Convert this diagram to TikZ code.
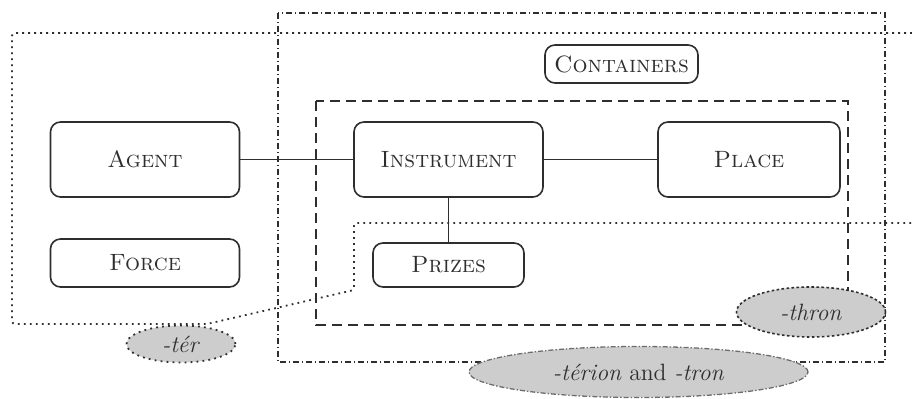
\documentclass[tikz,border=0pt]{standalone}
\usepackage{fontspec}
\usetikzlibrary{shapes.geometric}
\definecolor{ink}{HTML}{2E2E2E}
\definecolor{suffixfill}{HTML}{CDCDCD}
\tikzset{
  concept/.style={draw=ink, line width=0.8pt, rounded corners=5pt, inner sep=0pt,
    font=\fontsize{11.8}{14}\selectfont\scshape, text=ink},
  suffix/.style={ellipse, fill=suffixfill, inner sep=0pt, text=ink,
    font=\fontsize{11.8}{14}\selectfont},
  dotline/.style={draw=ink, line width=0.9pt, dash pattern=on 0.9pt off 2.1pt},
  dashline/.style={draw=ink, line width=0.65pt, dash pattern=on 5pt off 3pt},
  dashdotline/.style={draw=ink, line width=0.6pt, dash pattern=on 3.2pt off 1.3pt on 0.7pt off 1.3pt},
  link/.style={draw=ink, line width=0.65pt}
}
\begin{document}
\begin{tikzpicture}[x=0.5pt, y=-0.5pt]
  \useasboundingbox (0,0) rectangle (912,399);

  % region of -ter (open to the right)
  \draw[dotline, rounded corners=1.5pt]
    (912,33) -- (12,33) -- (12,324) -- (207,324) -- (354,290) -- (354,223) -- (912,223);
  % region of -terion and -tron
  \draw[dashdotline] (278,13) rectangle (885,362);
  % region of -thron
  \draw[dashline] (316,101) rectangle (848,325);

  % concepts
  \node[concept, minimum width=94.5pt, minimum height=37.5pt] (agent) at (145,159.5) {Agent};
  \node[concept, minimum width=94.5pt, minimum height=37.5pt] (instr) at (448.5,159.5) {Instrument};
  \node[concept, minimum width=91pt, minimum height=37.5pt] (place) at (749,159.5) {Place};
  \node[concept, minimum width=76.5pt, minimum height=19pt] (cont) at (621.5,64) {Containers};
  \node[concept, minimum width=94.5pt, minimum height=24pt] (force) at (145,263) {Force};
  \node[concept, minimum width=75.5pt, minimum height=22pt] (prizes) at (448.5,265) {Prizes};

  \draw[link] (agent) -- (instr);
  \draw[link] (instr) -- (place);
  \draw[link] (instr) -- (prizes);

  % suffix labels
  \node[suffix, dotline, minimum width=54.5pt, minimum height=18.5pt] (ter) at (181,344)
    {\textit{-tér}};
  \node[suffix, draw=ink, line width=0.8pt, dash pattern=on 1.3pt off 1.2pt,
        minimum width=74.5pt, minimum height=25pt] (thron) at (811,312) {\textit{-thron}};
  \node[suffix, draw=ink!70, line width=0.65pt, dash pattern=on 2.5pt off 1pt on 0.7pt off 1pt,
        minimum width=169.5pt, minimum height=25.5pt] (terion) at (638.5,372)
    {\textit{-térion} and \textit{-tron}};
\end{tikzpicture}
\end{document}
